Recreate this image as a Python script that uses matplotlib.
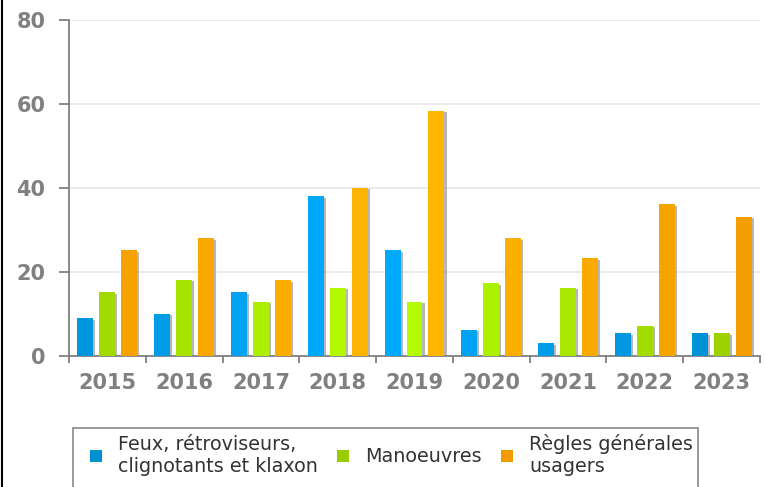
import numpy as np
import matplotlib
matplotlib.use('Agg')
import matplotlib.pyplot as plt
import matplotlib.patheffects as pe
from matplotlib.lines import Line2D
from matplotlib.patches import Patch, Rectangle

years = ['2015', '2016', '2017', '2018', '2019', '2020', '2021', '2022', '2023']
feux = [9.0, 10.0, 15.2, 38.0, 25.2, 6.3, 3.0, 5.4, 5.4]
manoeuvres = [15.2, 18.1, 12.9, 16.2, 12.9, 17.3, 16.3, 7.2, 5.4]
regles = [25.2, 28.0, 18.0, 40.0, 58.4, 28.0, 23.3, 36.1, 33.2]
series_labels = ['Feux, rétroviseurs,\nclignotants et klaxon', 'Manoeuvres', 'Règles générales\nusagers']

# dark (edge) and bright (centre) shades of each series
DARK = ['#008fd2', '#99cc00', '#f29a00']
BRIGHT = ['#00abff', '#b5ff00', '#ffb800']

GRAY = '#808080'


def shade(dark, bright, t):
    d = np.array(matplotlib.colors.to_rgb(dark))
    b = np.array(matplotlib.colors.to_rgb(bright))
    return tuple(d + (b - d) * t)


fig = plt.figure(figsize=(7.65, 4.87), dpi=100)
ax = fig.add_axes([69 / 765, 1 - 356 / 487, 691 / 765, 336 / 487])

n = len(years)
x = np.arange(n) + 0.5
bar_w = 0.208
step = 0.286
shadow = [pe.withSimplePatchShadow(offset=(1.5, -1), shadow_rgbFace='#888888', alpha=0.6)]

for k, vals in enumerate([feux, manoeuvres, regles]):
    cols = []
    for i in range(n):
        t = max(0.0, 1 - abs(i - 3.6) / 5.0)
        cols.append(shade(DARK[k], BRIGHT[k], t))
    bars = ax.bar(x + (k - 1) * step, vals, width=bar_w, color=cols, zorder=3)
    for b in bars:
        b.set_path_effects(shadow)

ax.set_xlim(0, n)
ax.set_ylim(0, 80)
ax.set_yticks([0, 20, 40, 60, 80])
ax.grid(axis='y', color='#e6e6e6', linewidth=1.2, zorder=0)

ax.set_xticks(np.arange(n + 1))
ax.set_xticklabels([])
ax.set_xticks(x, minor=True)
ax.set_xticklabels(years, minor=True)
ax.tick_params(axis='x', which='major', length=5, width=1.3, color=GRAY, direction='out')
ax.tick_params(axis='x', which='minor', length=0, pad=12, labelsize=15, labelcolor=GRAY)
ax.tick_params(axis='y', length=7, width=1.3, color=GRAY, pad=10, labelsize=15, labelcolor=GRAY)
for lab in ax.get_xticklabels(minor=True) + ax.get_yticklabels():
    lab.set_fontweight('bold')

for s in ['top', 'right']:
    ax.spines[s].set_visible(False)
for s in ['left', 'bottom']:
    ax.spines[s].set_color(GRAY)
    ax.spines[s].set_linewidth(1.3)

# legend frame drawn separately so the box can run off the bottom edge
fig.add_artist(Rectangle((72.5 / 765, -0.05), (698 - 72.5) / 765, 0.05 + (487 - 428) / 487,
                         transform=fig.transFigure, facecolor='white', edgecolor='#888888',
                         linewidth=1.2, zorder=1))
handles = [Patch(facecolor=c, edgecolor='none') for c in DARK]
leg = fig.legend(handles, series_labels, loc='upper left', bbox_to_anchor=(90 / 765, 1 - 434 / 487),
                 ncol=3, fontsize=13.8, frameon=False, borderaxespad=0, borderpad=0,
                 handlelength=0.62, handleheight=0.62, handletextpad=0.85, columnspacing=1.0,
                 labelcolor='#333333')
leg.set_zorder(2)

fig.add_artist(Line2D([2 / 765, 2 / 765], [0, 1], color='black', linewidth=1.5))

fig.savefig('out.png', dpi=100)
